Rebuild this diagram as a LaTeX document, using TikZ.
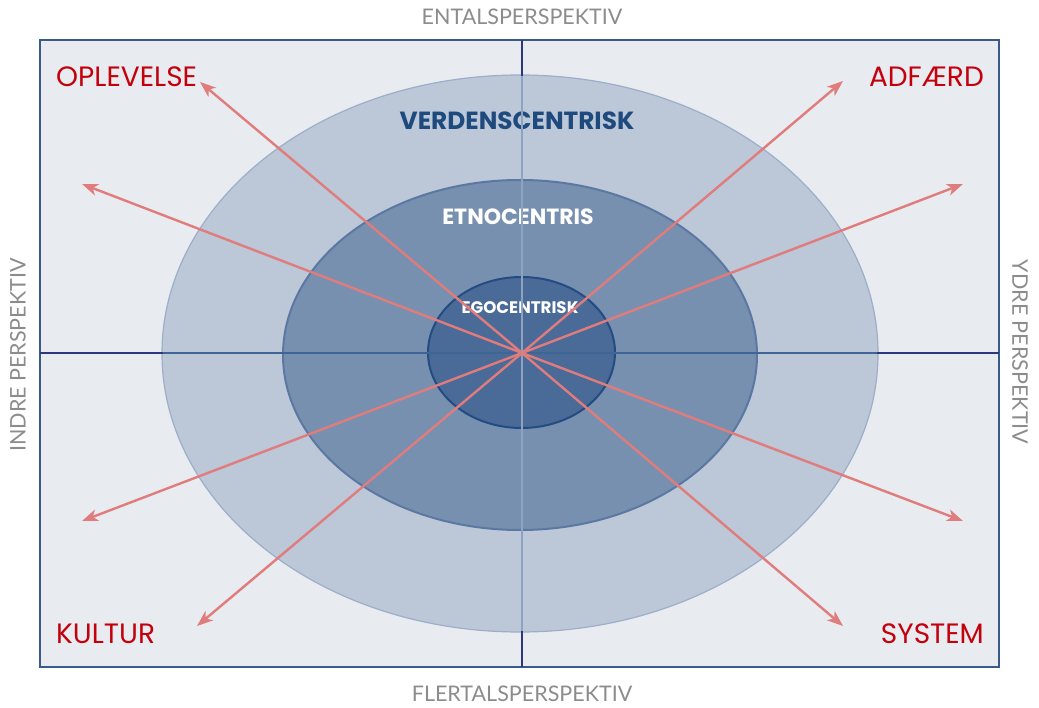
\documentclass[tikz,border=0pt]{standalone}
\usepackage{fontspec}
\setmainfont{Lato}
\newfontfamily\geofont{Poppins}
\usetikzlibrary{arrows.meta}
\definecolor{bgfill}{HTML}{E8EBF0}
\definecolor{framec}{HTML}{3A5A8C}
\definecolor{outerfill}{HTML}{BCC7D8}
\definecolor{outerdraw}{HTML}{9DAEC8}
\definecolor{midfill}{HTML}{7890B0}
\definecolor{middraw}{HTML}{5A78A2}
\definecolor{innerfill}{HTML}{4A6A98}
\definecolor{innerdraw}{HTML}{244C82}
\definecolor{axisdark}{HTML}{2E367E}
\definecolor{axisin}{HTML}{3F6597}
\definecolor{axislight}{HTML}{8EA3C2}
\definecolor{arrowc}{HTML}{E07C7C}
\definecolor{labelred}{HTML}{C4000C}
\definecolor{grayt}{HTML}{8C8C8C}
\definecolor{titleblue}{HTML}{1F4A7E}
\tikzset{
  outerlbl/.style={text=grayt, font=\fontsize{21.5}{21.5}\selectfont, inner sep=0pt},
  redlbl/.style={text=labelred, font=\geofont\fontsize{28}{28}\selectfont, inner sep=0pt},
  ringlbl/.style={inner sep=0pt},
  pinkarrow/.style={draw=arrowc, line width=2.4pt, -{Stealth[length=16pt,width=12pt,inset=4.5pt]}},
}
\begin{document}
\begin{tikzpicture}[x=1pt,y=-1pt]
\useasboundingbox (0,0) rectangle (1039,708);
\fill[white] (0,0) rectangle (1039,708);
\draw[fill=bgfill, draw=framec, line width=1.5pt] (40,40) rectangle (999,667);
% ellipses
\draw[fill=outerfill, draw=outerdraw, line width=1.2pt] (520,353.5) ellipse [x radius=358pt, y radius=278.5pt];
\draw[fill=midfill, draw=middraw, line width=2pt] (520,355) ellipse [x radius=237pt, y radius=175pt];
\draw[fill=innerfill, draw=innerdraw, line width=2pt] (521.5,352.5) ellipse [x radius=93.5pt, y radius=75.5pt];
% ring labels
\node[ringlbl, text=titleblue, font=\geofont\bfseries\fontsize{24.8}{24.8}\selectfont] (verden) at (517,121) {VERDENSCENTRISK};
\node[ringlbl, text=white, font=\geofont\bfseries\fontsize{22}{22}\selectfont] (etno) at (518,217) {ETNOCENTRIS};
\node[ringlbl, text=white, font=\geofont\bfseries\fontsize{16.7}{16.7}\selectfont] (ego) at (520,308) {EGOCENTRISK};
% axes
\coordinate (c) at (522,353);
\coordinate (vt) at (522,40);
\coordinate (vb) at (522,667);
\coordinate (hl) at (40,353);
\coordinate (hr) at (999,353);
\coordinate (vti) at (522,76);
\coordinate (vbi) at (522,631);
\coordinate (hli) at (163,353);
\coordinate (hri) at (877,353);
\draw[axisdark, line width=1.2pt] (vt) -- (vti);
\draw[axisdark, line width=1.2pt] (vbi) -- (vb);
\draw[axislight, line width=1.6pt] (vti) -- (vbi);
\draw[axisdark, line width=1.2pt] (hl) -- (hli);
\draw[axisdark, line width=1.2pt] (hri) -- (hr);
\draw[axisin, line width=1.6pt] (hli) -- (hri);
% arrow ends
\coordinate (a1) at (200,82);
\coordinate (a2) at (82,184);
\coordinate (a3) at (82,521);
\coordinate (a4) at (197,626);
\coordinate (a5) at (843,81);
\coordinate (a6) at (963,184);
\coordinate (a7) at (963,521);
\coordinate (a8) at (843,626);
\foreach \e in {a1,a2,a3,a4,a5,a6,a7,a8} \draw[pinkarrow] (c) -- (\e);
% corner labels
\node[redlbl, anchor=west] (opl) at (56,77) {OPLEVELSE};
\node[redlbl, anchor=east] (adf) at (984,77) {ADFÆRD};
\node[redlbl, anchor=west] (kul) at (56,634) {KULTUR};
\node[redlbl, anchor=east] (sys) at (984,634) {SYSTEM};
% outer labels
\node[outerlbl] (ental) at (522,17) {ENTALSPERSPEKTIV};
\node[outerlbl] (flertal) at (522,694) {FLERTALSPERSPEKTIV};
\node[outerlbl, rotate=90] (indre) at (18,355) {INDRE PERSPEKTIV};
\node[outerlbl, rotate=-90] (ydre) at (1020,352) {YDRE PERSPEKTIV};
\end{tikzpicture}
\end{document}
